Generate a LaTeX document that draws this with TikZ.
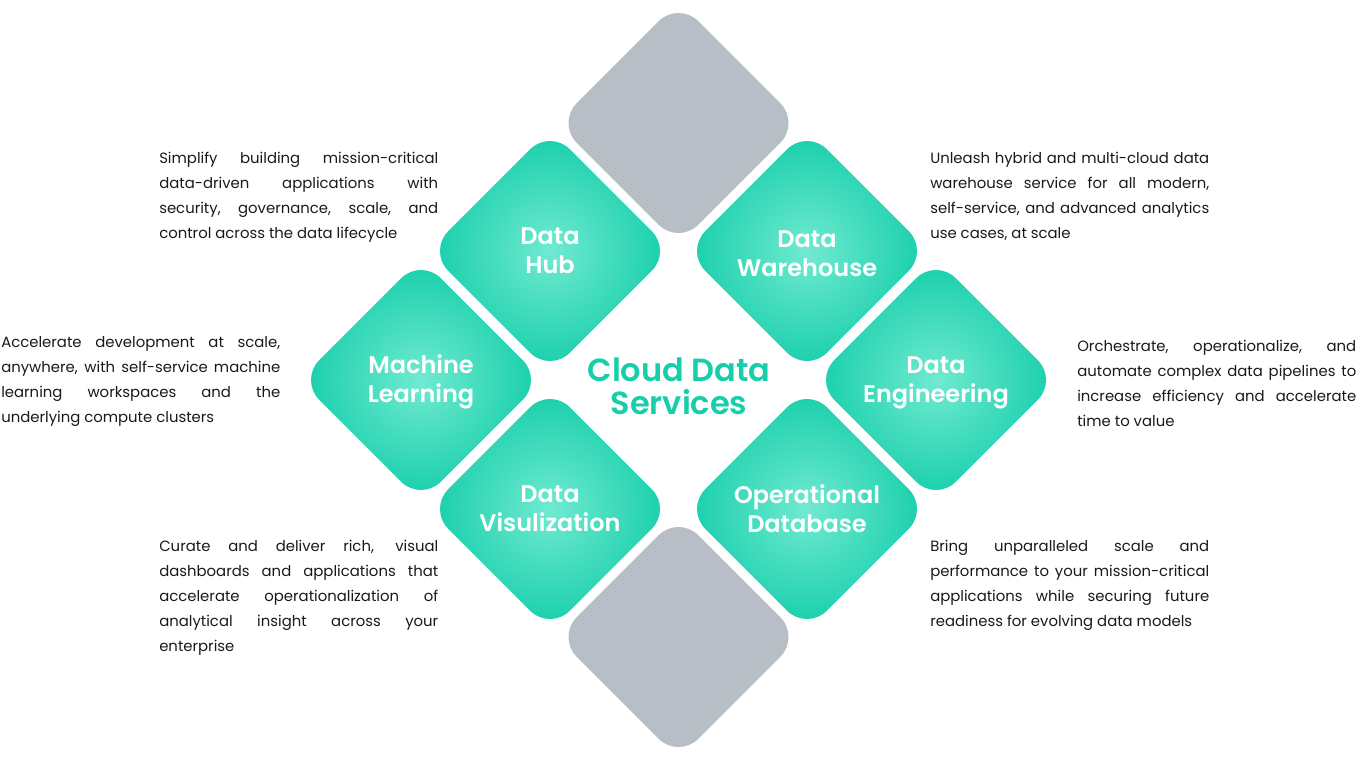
\documentclass[tikz,border=0pt]{standalone}
\usepackage{fontspec}
\setmainfont{Poppins}[BoldFont={Poppins SemiBold}]
\usetikzlibrary{shapes.geometric}
\definecolor{tealdark}{RGB}{22,206,170}
\definecolor{teallight}{RGB}{112,234,209}
\definecolor{graybox}{RGB}{183,190,198}
\definecolor{bodytext}{RGB}{25,25,25}
\pgfdeclareradialshading{diamshade}{\pgfpoint{0bp}{0bp}}{color(0bp)=(teallight); color(25bp)=(tealdark); color(50bp)=(tealdark)}
\tikzset{
  rdiam/.style={diamond, aspect=1, inner sep=0pt, outer sep=0pt, minimum width=182.4pt, minimum height=182.4pt, rounded corners=21pt, draw=none},
  greendiam/.style={rdiam, shading=diamshade},
  graydiam/.style={rdiam, fill=graybox},
  dlabel/.style={font=\bfseries\fontsize{18}{21.75}\selectfont, text=white, align=center, inner sep=0pt, anchor=base},
  bodypara/.style={font=\fontsize{11.15}{18.75}\selectfont, text width=209.25pt, align=justify, inner sep=0pt, anchor=base west, text=bodytext},
  titletext/.style={font=\bfseries\fontsize{24}{24.6}\selectfont, text=tealdark, align=center, inner sep=0pt, anchor=base}
}
\begin{document}
\begin{tikzpicture}[x=0.75pt,y=-0.75pt]
\useasboundingbox (0,0) rectangle (1358,760);
% diamonds
\node[graydiam] (gtop) at (678.5,123) {};
\node[graydiam] (gbot) at (678.5,637) {};
\node[greendiam] (hub) at (550,251) {};
\node[greendiam] (dw) at (807,251) {};
\node[greendiam] (ml) at (421,380) {};
\node[greendiam] (de) at (936,380) {};
\node[greendiam] (dv) at (550,509) {};
\node[greendiam] (od) at (807,509) {};
% labels (base anchor = last line baseline)
\node[dlabel] (hubl) at (550,273.5) {Data\\Hub};
\node[dlabel] (dwl) at (807,276.5) {Data\\Warehouse};
\node[dlabel] (mll) at (421,402) {Machine\\Learning};
\node[dlabel] (del) at (936,402) {Data\\Engineering};
\node[dlabel] (dvl) at (550,531) {Data\\Visulization};
\node[dlabel] (odl) at (807,532) {Operational\\Database};
\node[titletext] (title) at (679,414) {Cloud Data\\Services};
% paragraphs
\node[bodypara] (tl) at (159,163) {Simplify building mission-critical\linebreak data-driven applications with\linebreak security, governance, scale, and\linebreak control across the data lifecycle};
\node[bodypara] (tr) at (930,163) {Unleash hybrid and multi-cloud data\linebreak warehouse service for all modern,\linebreak self-service, and advanced analytics\linebreak use cases, at scale};
\node[bodypara] (mlp) at (1,347) {Accelerate development at scale,\linebreak anywhere, with self-service machine\linebreak learning workspaces and the\linebreak underlying compute clusters};
\node[bodypara] (dep) at (1077,351) {Orchestrate, operationalize, and\linebreak automate complex data pipelines to\linebreak increase efficiency and accelerate\linebreak time to value};
\node[bodypara] (dvp) at (159,551) {Curate and deliver rich, visual\linebreak dashboards and applications that\linebreak accelerate operationalization of\linebreak analytical insight across your\linebreak enterprise};
\node[bodypara] (odp) at (930,551) {Bring unparalleled scale and\linebreak performance to your mission-critical\linebreak applications while securing future\linebreak readiness for evolving data models};
\end{tikzpicture}
\end{document}
